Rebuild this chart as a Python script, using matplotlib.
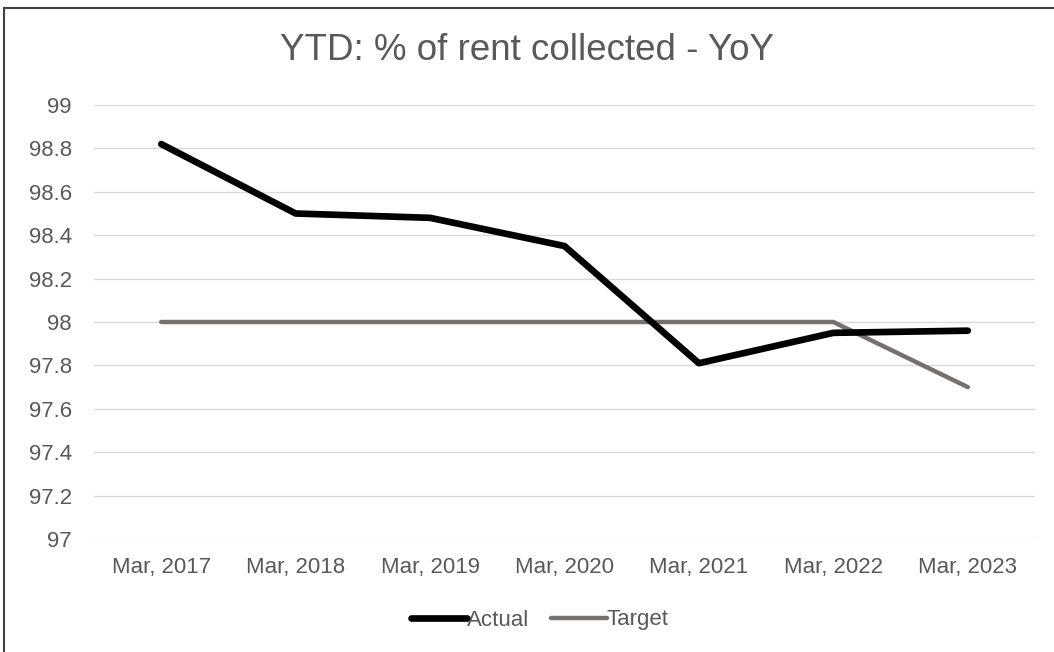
import matplotlib.pyplot as plt
from matplotlib.patches import Rectangle

plt.rcParams['font.family'] = ['Liberation Sans', 'DejaVu Sans']

# Data
years = ["Mar, 2017", "Mar, 2018", "Mar, 2019", "Mar, 2020", "Mar, 2021", "Mar, 2022", "Mar, 2023"]
actual = [98.82, 98.50, 98.48, 98.35, 97.81, 97.95, 97.96]
target = [98.0, 98.0, 98.0, 98.0, 98.0, 98.0, 97.70]
yticks = [97, 97.2, 97.4, 97.6, 97.8, 98, 98.2, 98.4, 98.6, 98.8, 99]
ytick_labels = ["97", "97.2", "97.4", "97.6", "97.8", "98", "98.2", "98.4", "98.6", "98.8", "99"]

text_col = "#595959"

fig = plt.figure(figsize=(10.54, 6.52), dpi=100)
ax = fig.add_axes([94 / 1054, 1 - 539 / 652, (1035 - 94) / 1054, (539 - 105) / 652])

x = list(range(len(years)))
ax.plot(x, target, color="#767171", lw=3.2, solid_capstyle="round", solid_joinstyle="round", label="Target", zorder=3)
ax.plot(x, actual, color="black", lw=4.8, solid_capstyle="round", solid_joinstyle="round", label="Actual", zorder=4)

ax.set_xlim(-0.5, len(years) - 0.5)
ax.set_ylim(97, 99)
ax.set_yticks(yticks)
ax.set_yticklabels(ytick_labels)
ax.set_xticks(x)
ax.set_xticklabels(years)
ax.grid(axis="y", color="#d9d9d9", lw=1)
ax.set_axisbelow(True)
for s in ax.spines.values():
    s.set_visible(False)
ax.tick_params(length=0, labelsize=16, labelcolor=text_col)
ax.tick_params(axis="y", pad=16)
ax.tick_params(axis="x", pad=13)

fig.text(0.5, 1 - 50 / 652, "YTD: % of rent collected - YoY", ha="center", va="center",
         fontsize=26.5, color=text_col)

handles, labels = ax.get_legend_handles_labels()
leg = fig.legend(handles[::-1], labels[::-1], loc="center", bbox_to_anchor=(540 / 1054, 1 - 620 / 652),
                 ncol=2, frameon=False, fontsize=16, handlelength=2.5, handletextpad=0.0,
                 columnspacing=1.0)
for t in leg.get_texts():
    t.set_color(text_col)

# outer border (clipped on right and bottom)
fig.patches.append(Rectangle((4 / 1054, -0.1), 1.2, 1 - 8 / 652 + 0.1, transform=fig.transFigure,
                             fill=False, edgecolor="#404040", lw=1.5))

fig.savefig("out.png", dpi=100)
